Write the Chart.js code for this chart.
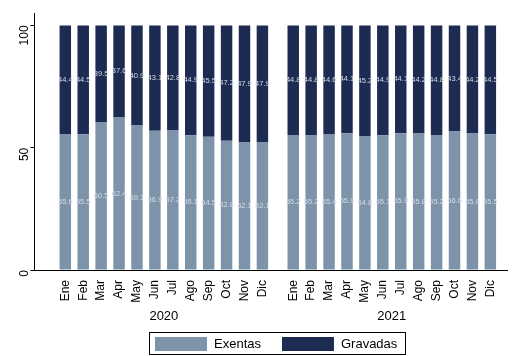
<!DOCTYPE html>
<html>
<head>
<meta charset="utf-8">
<script src="https://cdn.jsdelivr.net/npm/chart.js"></script>
<style>
  html, body { margin: 0; padding: 0; background: #fff; }
  #wrap { width: 518px; height: 356px; }
</style>
</head>
<body>
<div id="wrap"><canvas id="cv"></canvas></div>
<script>
const meses = ["Ene", "Feb", "Mar", "Apr", "May", "Jun", "Jul", "Ago", "Sep", "Oct", "Nov", "Dic"];
const anios = ["2020", "2021"];
const exentas2020 = [55.6, 55.5, 60.5, 62.4, 59.1, 56.9, 57.2, 55.1, 54.5, 52.8, 52.1, 52.1];
const gravadas2020 = [44.4, 44.5, 39.5, 37.6, 40.9, 43.1, 42.8, 44.9, 45.5, 47.2, 47.9, 47.9];
const exentas2021 = [55.2, 55.2, 55.4, 55.9, 54.8, 55.1, 55.9, 55.8, 55.2, 56.6, 55.8, 55.5];
const gravadas2021 = [44.8, 44.8, 44.6, 44.1, 45.2, 44.9, 44.1, 44.2, 44.8, 43.4, 44.2, 44.5];
const yTicks = [0, 50, 100];

// slot position of each month; the second year starts after a gap
const huecoAnios = 1.72;
const pos = meses.map((m, i) => i).concat(meses.map((m, i) => 11 + huecoAnios + i));
const etiquetas = meses.concat(meses);
const exentas = exentas2020.concat(exentas2021);
const gravadas = gravadas2020.concat(gravadas2021);

const colExentas = "#7d93a9";
const colGravadas = "#1d2a52";
const fuente = "'Liberation Sans', Arial, sans-serif";

function puntos(vals) {
  return vals.map((v, i) => ({ x: pos[i], y: v }));
}

const valLabels = {
  id: "valLabels",
  afterDatasetsDraw(chart) {
    const ctx = chart.ctx;
    ctx.save();
    ctx.font = "7.5px " + fuente;
    ctx.fillStyle = "#d9dde5";
    ctx.textAlign = "center";
    ctx.textBaseline = "middle";
    chart.data.datasets.forEach((ds, di) => {
      chart.getDatasetMeta(di).data.forEach((bar, i) => {
        const mid = (bar.y + bar.base) / 2;
        ctx.fillText(ds.data[i].y.toFixed(1), bar.x, mid);
      });
    });
    ctx.restore();
  },
};

const yearsAndLegend = {
  id: "yearsAndLegend",
  afterDraw(chart) {
    const ctx = chart.ctx;
    const xs = chart.scales.x;
    ctx.save();
    ctx.font = "13px " + fuente;
    ctx.fillStyle = "#000";
    ctx.textBaseline = "middle";
    ctx.textAlign = "center";
    anios.forEach((a, k) => {
      const p0 = pos[k * 12], p1 = pos[k * 12 + 11];
      const cx = (xs.getPixelForValue(p0) + xs.getPixelForValue(p1)) / 2;
      ctx.fillText(a, cx, 316);
    });

    // legend
    const boxW = 52, boxH = 14, gapTxt = 7, gapItem = 21;
    const items = chart.data.datasets.map((ds) => ({
      label: ds.label,
      color: ds.backgroundColor,
      w: ctx.measureText(ds.label).width,
    }));
    let total = 0;
    items.forEach((it, k) => {
      total += boxW + gapTxt + it.w + (k < items.length - 1 ? gapItem : 0);
    });
    const centro = (chart.chartArea.left + chart.chartArea.right) / 2 + 5;
    let x = Math.round(centro - total / 2);
    const yBox = 337;
    const x0 = x;
    ctx.textAlign = "left";
    items.forEach((it) => {
      ctx.fillStyle = it.color;
      ctx.fillRect(x, yBox, boxW, boxH);
      ctx.fillStyle = "#000";
      ctx.fillText(it.label, x + boxW + gapTxt, yBox + boxH / 2);
      x += boxW + gapTxt + it.w + gapItem;
    });
    const x1 = x - gapItem;
    ctx.strokeStyle = "#000";
    ctx.lineWidth = 1;
    ctx.strokeRect(x0 - 5.5, 332.5, Math.round(x1 - x0 + 14), 22);
    ctx.restore();
  },
};

new Chart(document.getElementById("cv"), {
  type: "bar",
  data: {
    datasets: [
      { label: "Exentas", data: puntos(exentas), backgroundColor: colExentas, barPercentage: 0.64, categoryPercentage: 1 },
      { label: "Gravadas", data: puntos(gravadas), backgroundColor: colGravadas, barPercentage: 0.64, categoryPercentage: 1 },
    ],
  },
  options: {
    responsive: true,
    maintainAspectRatio: false,
    animation: false,
    layout: { padding: { top: 12, right: 11, left: 4, bottom: 0 } },
    plugins: {
      tooltip: { enabled: false },
      legend: { display: false },
    },
    scales: {
      x: {
        type: "linear",
        stacked: true,
        min: -1.175,
        max: pos[pos.length - 1] + 0.38,
        afterBuildTicks(scale) {
          scale.ticks = pos.map((v) => ({ value: v }));
        },
        grid: { display: false },
        border: { display: true, color: "#000", width: 1 },
        ticks: {
          color: "#000",
          font: { family: fuente, size: 12 },
          minRotation: 90,
          maxRotation: 90,
          autoSkip: false,
          padding: 2,
          callback(v) {
            const i = pos.indexOf(v);
            return i >= 0 ? etiquetas[i] : "";
          },
        },
        afterFit(scale) {
          scale.height = 86;
        },
      },
      y: {
        stacked: true,
        min: 0,
        max: 105,
        afterBuildTicks(scale) {
          scale.ticks = yTicks.map((v) => ({ value: v }));
        },
        grid: { drawOnChartArea: false, drawTicks: true, tickLength: 4, color: "#000" },
        border: { display: true, color: "#000", width: 1 },
        ticks: {
          color: "#000",
          font: { family: fuente, size: 12 },
          minRotation: 90,
          maxRotation: 90,
          padding: 6,
        },
      },
    },
  },
  plugins: [valLabels, yearsAndLegend],
});
</script>
</body>
</html>
